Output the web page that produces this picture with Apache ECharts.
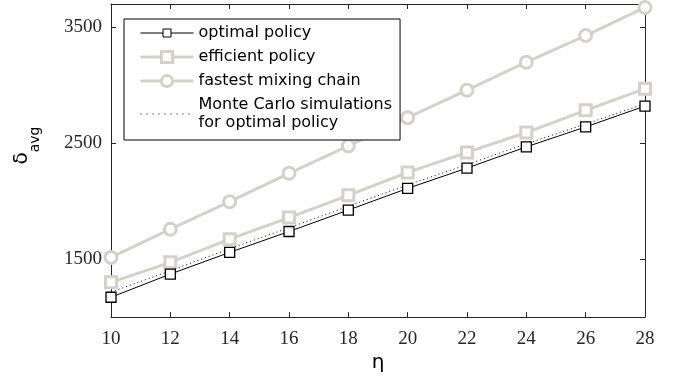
<!DOCTYPE html>
<html>
<head>
<meta charset="utf-8">
<script src="https://cdn.jsdelivr.net/npm/echarts@6/dist/echarts.min.js"></script>
<style>html,body{margin:0;padding:0;background:#fff;}#c{width:677px;height:378px;}</style>
</head>
<body>
<div id="c"></div>
<script>
const eta = [10, 12, 14, 16, 18, 20, 22, 24, 26, 28];
const optimalPolicy = [1171, 1371, 1558, 1738, 1923, 2110, 2285, 2468, 2640, 2820];
const efficientPolicy = [1300, 1472, 1672, 1858, 2050, 2248, 2420, 2592, 2783, 2970];
const fastestMixing = [1515, 1758, 1995, 2240, 2477, 2720, 2957, 3198, 3428, 3670];
const monteCarlo = [1215, 1400, 1590, 1770, 1955, 2140, 2315, 2495, 2665, 2840];
const yTicks = [1500, 2500, 3500];
const names = ['optimal policy', 'efficient policy', 'fastest mixing chain', 'Monte Carlo simulations\nfor optimal policy'];

const gray = '#d4d1c7';
const axisColor = '#262626';
const pair = (arr) => eta.map((x, i) => [x, arr[i]]);

const chart = echarts.init(document.getElementById('c'), null, {renderer: 'canvas'});
const xBase = {
  type: 'value', min: 10, max: 28, interval: 2,
  axisLine: {show: true, lineStyle: {color: axisColor, width: 1}},
  axisTick: {show: true, inside: true, length: 5, lineStyle: {color: axisColor}},
  splitLine: {show: false}
};
const yBase = {
  type: 'value', min: 1000, max: 3700,
  axisLine: {show: true, lineStyle: {color: axisColor, width: 1}},
  axisTick: {show: true, inside: true, length: 5, customValues: yTicks, lineStyle: {color: axisColor}},
  splitLine: {show: false}
};
chart.setOption({
  animation: false,
  grid: {left: 111, right: 32, top: 4, bottom: 60, containLabel: false},
  xAxis: [
    Object.assign({}, xBase, {
      position: 'bottom',
      name: 'η', nameLocation: 'middle', nameGap: 31,
      nameTextStyle: {fontFamily: 'DejaVu Sans', fontSize: 20, color: '#000'},
      axisLabel: {fontFamily: 'Liberation Serif', fontSize: 19, color: '#262626', margin: 12}
    }),
    Object.assign({}, xBase, {position: 'top', axisLabel: {show: false}})
  ],
  yAxis: [
    Object.assign({}, yBase, {
      position: 'left',
      axisLabel: {fontFamily: 'Liberation Serif', fontSize: 19, color: '#262626', margin: 9,
        customValues: yTicks, formatter: (v) => String(v)}
    }),
    Object.assign({}, yBase, {position: 'right', axisLabel: {show: false}})
  ],
  graphic: [{
    type: 'text', x: 27, y: 145, rotation: Math.PI / 2,
    style: {
      text: '{d|δ}{s|avg}{z| }',
      align: 'center', verticalAlign: 'middle',
      rich: {
        d: {fontFamily: 'DejaVu Sans', fontSize: 20, lineHeight: 20, verticalAlign: 'top', fill: '#000'},
        s: {fontFamily: 'DejaVu Sans', fontSize: 14, lineHeight: 16, verticalAlign: 'bottom', fill: '#000'},
        z: {fontSize: 4, lineHeight: 31}
      }
    }
  }],
  legend: {
    orient: 'vertical', left: 124, top: 19,
    data: [
      {name: names[0], icon: 'path://M0,7L22.5,7M30.5,7L53,7M22.5,3L30.5,3L30.5,11L22.5,11Z',
        itemStyle: {color: '#fff', borderColor: '#000', borderWidth: 1}},
      {name: names[1], itemStyle: {color: '#fff', borderColor: gray, borderWidth: 3}, lineStyle: {width: 3, color: gray}},
      {name: names[2], itemStyle: {color: '#fff', borderColor: gray, borderWidth: 3}, lineStyle: {width: 3, color: gray}},
      {name: names[3], itemStyle: {opacity: 0}, lineStyle: {width: 1, color: '#000', type: [1, 5]}}
    ],
    backgroundColor: '#fff',
    borderColor: '#000', borderWidth: 1,
    padding: [5, 8, 8, 15],
    itemWidth: 53, itemHeight: 14, itemGap: 6,
    textStyle: {fontFamily: 'DejaVu Sans', fontSize: 16, color: '#000', lineHeight: 18}
  },
  series: [
    {
      name: names[1], type: 'line', data: pair(efficientPolicy), z: 2,
      symbol: 'rect', symbolSize: 11,
      lineStyle: {color: gray, width: 3},
      itemStyle: {color: '#fff', borderColor: gray, borderWidth: 3}
    },
    {
      name: names[2], type: 'line', data: pair(fastestMixing), z: 2,
      symbol: 'circle', symbolSize: 12,
      lineStyle: {color: gray, width: 3},
      itemStyle: {color: '#fff', borderColor: gray, borderWidth: 3}
    },
    {
      name: names[3], type: 'line', data: pair(monteCarlo), z: 3,
      symbol: 'none', showSymbol: false,
      lineStyle: {color: '#000', width: 1, type: [1, 3]},
      itemStyle: {color: '#000'}
    },
    {
      name: names[0], type: 'line', data: pair(optimalPolicy), z: 4,
      symbol: 'rect', symbolSize: 10,
      lineStyle: {color: '#000', width: 1},
      itemStyle: {color: '#fff', borderColor: '#000', borderWidth: 1.3}
    }
  ]
});
</script>
</body>
</html>
